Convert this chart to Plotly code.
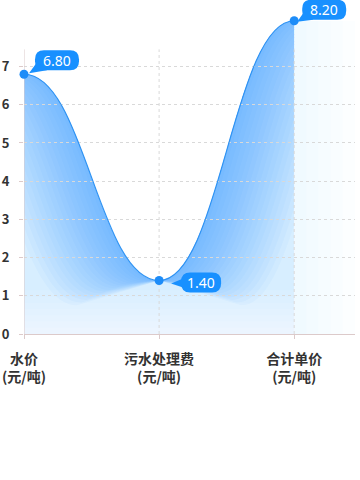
import plotly.graph_objects as go

# ---- data ----
categories = ["水价", "污水处理费", "合计单价"]
unit_label = "(元/吨)"
values = [6.80, 1.40, 8.20]
y_ticks = [0, 1, 2, 3, 4, 5, 6, 7]

x_pos = list(range(len(values)))
X_MAX = 2.45
Y_MAX = 8.743
AXIS_TOP = 7.45
PLOT_W = 331
PLOT_H = 334
PX_X = PLOT_W / X_MAX
PX_Y = PLOT_H / Y_MAX
A = 0.45

BLUE = "#1890ff"
LINE = "#2f93f3"
AXIS_COL = "#dccaca"
GRID_COL = "#d9d9d9"
FILL_RGB = "30,142,250"


def ctrl(x0, y0, x1, y1):
    dx = x1 - x0
    return [(x0, y0), (x0 + A * dx, y0), (x1 - A * dx, y1), (x1, y1)]


def seg(x0, y0, x1, y1):
    P = ctrl(x0, y0, x1, y1)
    return f"C {P[1][0]},{P[1][1]} {P[2][0]},{P[2][1]} {P[3][0]},{P[3][1]} "


def bez(P, t):
    m = 1 - t
    return (m ** 3 * P[0][0] + 3 * m * m * t * P[1][0] + 3 * m * t * t * P[2][0] + t ** 3 * P[3][0],
            m ** 3 * P[0][1] + 3 * m * m * t * P[1][1] + 3 * m * t * t * P[2][1] + t ** 3 * P[3][1])


def split_left(P, t):
    lerp = lambda a, b: (a[0] + (b[0] - a[0]) * t, a[1] + (b[1] - a[1]) * t)
    a, b, c = lerp(P[0], P[1]), lerp(P[1], P[2]), lerp(P[2], P[3])
    d, e = lerp(a, b), lerp(b, c)
    f = lerp(d, e)
    return [P[0], a, d, f]


def curve_path():
    p = f"M {x_pos[0]},{values[0]} "
    for i in range(len(values) - 1):
        p += seg(x_pos[i], values[i], x_pos[i + 1], values[i + 1])
    return p


shapes = []

# base area layers (fade toward the bottom)
n_floor = 8
for k in range(n_floor):
    floor = k * 1.3 / n_floor
    alpha = 0.085 if k == 0 else 0.013
    p = f"M {x_pos[0]},{floor} L {x_pos[0]},{values[0]} "
    for i in range(len(values) - 1):
        p += seg(x_pos[i], values[i], x_pos[i + 1], values[i + 1])
    p += f"L {x_pos[-1]},{floor} Z"
    shapes.append(dict(type="path", path=p, xref="x", yref="y", layer="below",
                       fillcolor=f"rgba({FILL_RGB},{alpha})", line=dict(width=0)))

# flat continuation after the last point, fading to the right
for k in range(5):
    xe = x_pos[-1] + (X_MAX - x_pos[-1]) * (k + 1) / 5
    shapes.append(dict(type="path",
                       path=f"M {x_pos[-1]},0 L {x_pos[-1]},{values[-1]} L {xe},{values[-1]} L {xe},0 Z",
                       xref="x", yref="y", layer="below",
                       fillcolor=f"rgba({FILL_RGB},0.012)", line=dict(width=0)))

# soft glow bands hugging the inside of the curve
n_band = 18
H_MAX = 4 + (n_band - 1) * 4.6
for b in range(n_band):
    hpx = 4 + b * 4.6
    vpx = 0.3 * hpx * (hpx / H_MAX)
    for i in range(len(values) - 1):
        x0, y0, x1, y1 = x_pos[i], values[i], x_pos[i + 1], values[i + 1]
        sgn = -1 if y1 < y0 else 1
        h = sgn * hpx / PX_X
        v = vpx / PX_Y
        P = ctrl(x0, y0, x1, y1)
        S = [(q[0] + h, q[1] - v) for q in P]
        if sgn > 0:
            # keep the band left of the segment end
            lo, hi = 0.0, 1.0
            for _ in range(40):
                mid = (lo + hi) / 2
                if bez(S, mid)[0] < x1:
                    lo = mid
                else:
                    hi = mid
            S = split_left(S, lo)
        p = f"M {x0},{y0} " + seg(x0, y0, x1, y1)
        p += (f"L {S[3][0]},{S[3][1]} C {S[2][0]},{S[2][1]} {S[1][0]},{S[1][1]} "
              f"{S[0][0]},{S[0][1]} Z")
        shapes.append(dict(type="path", path=p, xref="x", yref="y", layer="below",
                           fillcolor=f"rgba({FILL_RGB},0.036)", line=dict(width=0)))

# vertical dotted grid lines and y axis line
for xv in x_pos[1:]:
    shapes.append(dict(type="line", x0=xv, x1=xv, y0=0, y1=AXIS_TOP, xref="x", yref="y",
                       layer="between", line=dict(color=GRID_COL, width=1, dash="dot")))
shapes.append(dict(type="line", x0=0, x1=0, y0=0, y1=AXIS_TOP, xref="x", yref="y",
                   layer="between", line=dict(color=AXIS_COL, width=1)))

# the curve itself
shapes.append(dict(type="path", path=curve_path(), xref="x", yref="y", layer="between",
                   line=dict(color=LINE, width=1.2)))


def rrect(x0, x1, y0, y1, r):
    return (f"M {x0 + r},{y0} L {x1 - r},{y0} Q {x1},{y0} {x1},{y0 + r} "
            f"L {x1},{y1 - r} Q {x1},{y1} {x1 - r},{y1} L {x0 + r},{y1} "
            f"Q {x0},{y1} {x0},{y1 - r} L {x0},{y0 + r} Q {x0},{y0} {x0 + r},{y0} Z")


# callout bubbles (pixel geometry relative to each point)
bubble_geo = [
    dict(box=(11, 55, 4, 24), tail=[(13, 12), (23, 4), (5, 1)]),
    dict(box=(22, 62, -12, 8), tail=[(24, 2), (24, -7), (12, -3)]),
    dict(box=(8, 52, 1, 21), tail=[(10, 9), (19, 1), (3, -1)]),
]
annotations = []
for xv, yv, g in zip(x_pos, values, bubble_geo):
    bx0, bx1, by0, by1 = g["box"]
    shapes.append(dict(type="path", path=rrect(bx0, bx1, by0, by1, 9),
                       xref="x", yref="y", xsizemode="pixel", ysizemode="pixel",
                       xanchor=xv, yanchor=yv, layer="above",
                       fillcolor=BLUE, line=dict(width=0)))
    t = g["tail"]
    shapes.append(dict(type="path",
                       path=f"M {t[0][0]},{t[0][1]} L {t[1][0]},{t[1][1]} L {t[2][0]},{t[2][1]} Z",
                       xref="x", yref="y", xsizemode="pixel", ysizemode="pixel",
                       xanchor=xv, yanchor=yv, layer="above",
                       fillcolor=BLUE, line=dict(width=0)))
    annotations.append(dict(x=xv, y=yv, xref="x", yref="y", text=f"{yv:.2f}",
                            showarrow=False, xshift=(bx0 + bx1) / 2, yshift=(by0 + by1) / 2,
                            font=dict(family="Noto Sans", size=14, color="white")))

fig = go.Figure()
fig.add_trace(go.Scatter(x=x_pos, y=values, mode="markers",
                         marker=dict(size=9, color="#1d8cf8"),
                         cliponaxis=False, hoverinfo="skip", showlegend=False))

fig.update_layout(
    width=360, height=480,
    margin=dict(l=24, r=5, t=0, b=146, autoexpand=False),
    paper_bgcolor="white", plot_bgcolor="white",
    shapes=shapes, annotations=annotations,
    showlegend=False,
    xaxis=dict(range=[0, X_MAX], tickmode="array", tickvals=x_pos,
               ticktext=[f"{c}<br>{unit_label}" for c in categories],
               showgrid=False, zeroline=False, automargin=False,
               showline=True, linecolor=AXIS_COL, linewidth=1,
               ticks="outside", ticklen=4, tickcolor=AXIS_COL,
               ticklabelstandoff=8,
               tickfont=dict(family="Noto Sans CJK SC", size=14, color="#333333", weight="bold")),
    yaxis=dict(range=[0, Y_MAX], tickmode="array", tickvals=y_ticks,
               ticktext=[str(v) for v in y_ticks],
               showgrid=True, gridcolor=GRID_COL, griddash="dot", gridwidth=1,
               zeroline=False, showline=False, automargin=False,
               ticks="outside", ticklen=4, tickcolor=AXIS_COL,
               ticklabelstandoff=7,
               tickfont=dict(family="Noto Sans CJK SC", size=13, color="#333333", weight="bold")),
)

fig.write_html("out.html", config={"displayModeBar": False, "staticPlot": True},
               post_script="document.body.style.margin='0px';")
